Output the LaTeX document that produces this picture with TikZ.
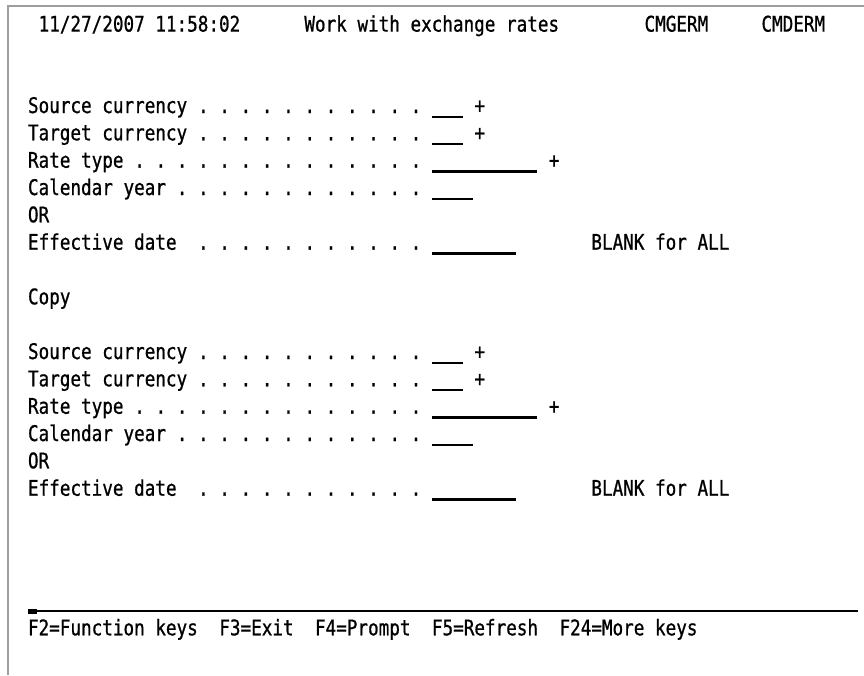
\documentclass[tikz,border=0pt]{standalone}
\usepackage{fontspec}
\newfontfamily\termfont[FakeStretch=0.82,FakeBold=0.8]{DejaVu Sans Mono}
\newcommand{\cx}[1]{28+10.63*(#1)}

\begin{document}
\begin{tikzpicture}[x=1pt,y=-1pt,
    scr/.style={anchor=base west,inner sep=0pt,outer sep=0pt,
      font=\termfont\fontsize{21.5}{26}\selectfont},
    fld/.style={line width=2.2pt},
    ramka/.style={draw=black!38,line width=1.2pt}]
    \useasboundingbox (0,0) rectangle (864,675);

    % Ramka okna
    \draw[ramka] (8,675) -- (8,6) -- (864,6);

    % Naglowek
    \node[scr] (data) at ({\cx{1}},31.6) {11/27/2007 11:58:02};
    \node[scr] (tytul) at ({\cx{26}},31.6) {Work with exchange rates};
    \node[scr] (prog) at ({\cx{58}},31.6) {CMGERM};
    \node[scr] (uzytk) at ({\cx{69}},31.6) {CMDERM};

    % Dwa bloki pol
    \foreach \b/\dy in {1/0,2/246}{
        \node[scr] (src\b) at ({\cx{0}},{113+\dy}) {Source currency};
        \node[scr] (tgt\b) at ({\cx{0}},{140.3+\dy}) {Target currency};
        \node[scr] (rty\b) at ({\cx{0}},{167.7+\dy}) {Rate type};
        \node[scr] (cal\b) at ({\cx{0}},{195+\dy}) {Calendar year};
        \node[scr] (or\b) at ({\cx{0}},{222.3+\dy}) {OR};
        \node[scr] (eff\b) at ({\cx{0}},{249.7+\dy}) {Effective date};

        % Kropki (co druga kolumna)
        \foreach \r/\s/\y in {src/8/113,tgt/8/140.3,rty/5/167.7,cal/7/195,eff/8/249.7}
            \foreach \k in {\s,...,18}
                \node[scr] (d\r\b-\k) at ({\cx{2*\k}},{\y+\dy}) {.};

        % Pola wejsciowe
        \foreach \y/\n in {113/3,140.3/3,167.7/10,195/4,249.7/8}
            \draw[fld] ({\cx{38}},{\y+3.7+\dy}) -- ++({10.63*\n-1},0);

        % Podpowiedzi
        \node[scr] (psrc\b) at ({\cx{42}},{113+\dy}) {+};
        \node[scr] (ptgt\b) at ({\cx{42}},{140.3+\dy}) {+};
        \node[scr] (prty\b) at ({\cx{49}},{167.7+\dy}) {+};
        \node[scr] (blk\b) at ({\cx{53}},{249.7+\dy}) {BLANK for ALL};
    }

    \node[scr] (kopia) at ({\cx{0}},304.3) {Copy};

    % Linia klawiszy
    \draw[line width=2pt] (28,610.7) -- (858,610.7);
    \fill (28,609.3) rectangle (37,613.5);
    \foreach \c/\t [count=\i] in {0/F2=Function keys,18/F3=Exit,27/F4=Prompt,38/F5=Refresh,50/F24=More keys}
        \node[scr] (fk\i) at ({\cx{\c}},635.3) {\t};
\end{tikzpicture}
\end{document}
